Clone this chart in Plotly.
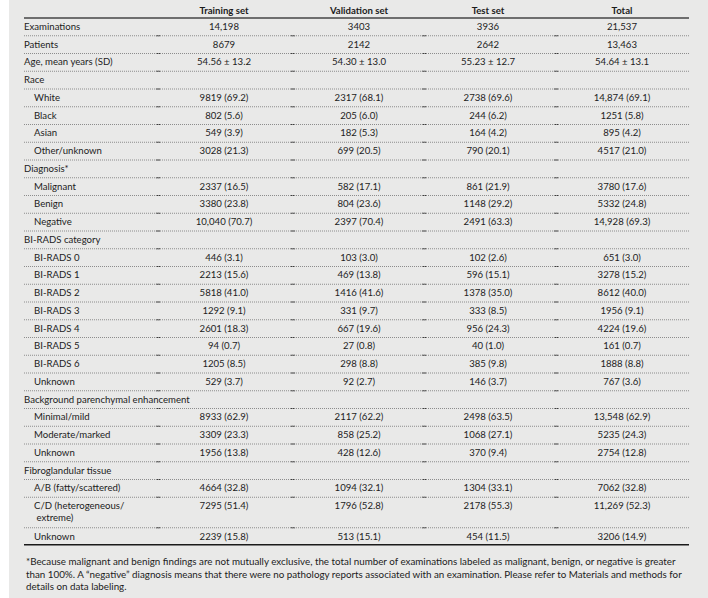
import plotly.graph_objects as go

# ---- table content ----
headers = ['Training set', 'Validation set', 'Test set', 'Total']

labels = [
    'Examinations', 'Patients', 'Age, mean years (SD)', 'Race',
    'White', 'Black', 'Asian', 'Other/unknown',
    'Diagnosis*', 'Malignant', 'Benign', 'Negative',
    'BI-RADS category', 'BI-RADS 0', 'BI-RADS 1', 'BI-RADS 2', 'BI-RADS 3',
    'BI-RADS 4', 'BI-RADS 5', 'BI-RADS 6', 'Unknown',
    'Background parenchymal enhancement', 'Minimal/mild', 'Moderate/marked', 'Unknown',
    'Fibroglandular tissue', 'A/B (fatty/scattered)', 'C/D (heterogeneous/<br> extreme)', 'Unknown',
]
indented = [0, 0, 0, 0,
            1, 1, 1, 1,
            0, 1, 1, 1,
            0, 1, 1, 1, 1, 1, 1, 1, 1,
            0, 1, 1, 1,
            0, 1, 1, 1]

training = ['14,198', '8679', '54.56 ± 13.2', '',
            '9819 (69.2)', '802 (5.6)', '549 (3.9)', '3028 (21.3)',
            '', '2337 (16.5)', '3380 (23.8)', '10,040 (70.7)',
            '', '446 (3.1)', '2213 (15.6)', '5818 (41.0)', '1292 (9.1)',
            '2601 (18.3)', '94 (0.7)', '1205 (8.5)', '529 (3.7)',
            '', '8933 (62.9)', '3309 (23.3)', '1956 (13.8)',
            '', '4664 (32.8)', '7295 (51.4)', '2239 (15.8)']
validation = ['3403', '2142', '54.30 ± 13.0', '',
              '2317 (68.1)', '205 (6.0)', '182 (5.3)', '699 (20.5)',
              '', '582 (17.1)', '804 (23.6)', '2397 (70.4)',
              '', '103 (3.0)', '469 (13.8)', '1416 (41.6)', '331 (9.7)',
              '667 (19.6)', '27 (0.8)', '298 (8.8)', '92 (2.7)',
              '', '2117 (62.2)', '858 (25.2)', '428 (12.6)',
              '', '1094 (32.1)', '1796 (52.8)', '513 (15.1)']
test = ['3936', '2642', '55.23 ± 12.7', '',
        '2738 (69.6)', '244 (6.2)', '164 (4.2)', '790 (20.1)',
        '', '861 (21.9)', '1148 (29.2)', '2491 (63.3)',
        '', '102 (2.6)', '596 (15.1)', '1378 (35.0)', '333 (8.5)',
        '956 (24.3)', '40 (1.0)', '385 (9.8)', '146 (3.7)',
        '', '2498 (63.5)', '1068 (27.1)', '370 (9.4)',
        '', '1304 (33.1)', '2178 (55.3)', '454 (11.5)']
total = ['21,537', '13,463', '54.64 ± 13.1', '',
         '14,874 (69.1)', '1251 (5.8)', '895 (4.2)', '4517 (21.0)',
         '', '3780 (17.6)', '5332 (24.8)', '14,928 (69.3)',
         '', '651 (3.0)', '3278 (15.2)', '8612 (40.0)', '1956 (9.1)',
         '4224 (19.6)', '161 (0.7)', '1888 (8.8)', '767 (3.6)',
         '', '13,548 (62.9)', '5235 (24.3)', '2754 (12.8)',
         '', '7062 (32.8)', '11,269 (52.3)', '3206 (14.9)']

footnote = ('*Because malignant and benign findings are not mutually exclusive, the total number of '
            'examinations labeled as malignant, benign, or negative is greater<br>than 100%. '
            'A \u201cnegative\u201d diagnosis means that there were no pathology reports associated '
            'with an examination. Please refer to Materials and methods for<br>details on data labeling.')

# ---- layout geometry (pixel-like axis units) ----
W, H = 708, 598
left_x, indent_x = 24, 34
right_x = 689
col_x = [224, 359, 488, 622]
col_bounds = [158, 293, 424, 556]
header_y = 11.5
header_line_y = 18
row_h = 17.75
line_h = 12
n_lines = [lab.count('<br>') + 1 for lab in labels]
heights = [row_h if n == 1 else row_h + (n - 1) * 12.75 for n in n_lines]
heights[-1] = 17

tops = []
y = header_line_y
for h in heights:
    tops.append(y)
    y += h
bottom_y = y
first_line = [t + 9.6 for t in tops]
label_y = [f + (n - 1) * line_h / 2 for f, n in zip(first_line, n_lines)]

font = 'Lato, "Open Sans", sans-serif'
ink = '#1c1c1c'
fsize = 9.6

fig = go.Figure()

# row labels
fig.add_trace(go.Scatter(
    x=[indent_x if ind else left_x for ind in indented],
    y=label_y,
    text=labels,
    mode='text',
    textposition='middle right',
    textfont=dict(family=font, size=fsize, color=ink),
    hoverinfo='skip',
    showlegend=False,
))

# value columns
for cx, vals in zip(col_x, [training, validation, test, total]):
    fig.add_trace(go.Scatter(
        x=[cx] * len(vals),
        y=first_line,
        text=vals,
        mode='text',
        textposition='middle center',
        textfont=dict(family=font, size=fsize, color=ink),
        hoverinfo='skip',
        showlegend=False,
    ))

# header
fig.add_trace(go.Scatter(
    x=col_x,
    y=[header_y] * len(headers),
    text=['<b>%s</b>' % h for h in headers],
    mode='text',
    textposition='middle center',
    textfont=dict(family=font, size=fsize, color=ink),
    hoverinfo='skip',
    showlegend=False,
))

# header rule
fig.add_shape(type='line', x0=left_x, x1=right_x, y0=header_line_y, y1=header_line_y,
              line=dict(color='#6e6e6e', width=2.2), layer='above')

# dotted row separators
seps = [t + h for t, h in zip(tops, heights)][:-1]
for sy in seps:
    fig.add_shape(type='line', x0=left_x, x1=right_x, y0=sy, y1=sy,
                  line=dict(color='#8c8c8c', width=1, dash='1px,1px'), layer='above')

# darker joins where column segments meet
fig.add_trace(go.Scatter(
    x=[bx for sy in seps for bx in col_bounds],
    y=[sy for sy in seps for bx in col_bounds],
    mode='markers',
    marker=dict(symbol='line-ew', size=3, line=dict(color='#3c3c3c', width=1)),
    hoverinfo='skip',
    showlegend=False,
))

# bottom rule
fig.add_shape(type='line', x0=left_x, x1=right_x, y0=bottom_y, y1=bottom_y,
              line=dict(color='#1a1a1a', width=1.3), layer='above')

# footnote
fig.add_annotation(
    x=left_x, y=bottom_y + 8, xref='x', yref='y',
    text=footnote, showarrow=False, xanchor='left', yanchor='top', align='left',
    font=dict(family=font, size=9.8, color=ink),
)

fig.update_xaxes(range=[9, W], domain=[9 / W, 1], visible=False, fixedrange=True)
fig.update_yaxes(range=[H, 0], visible=False, fixedrange=True)
fig.update_layout(
    width=W, height=H,
    margin=dict(l=0, r=0, t=0, b=0),
    paper_bgcolor='white',
    plot_bgcolor='#e9e9e8',
)

fig.write_html('out.html', config={'displayModeBar': False},
               post_script="document.body.style.margin='0';")
